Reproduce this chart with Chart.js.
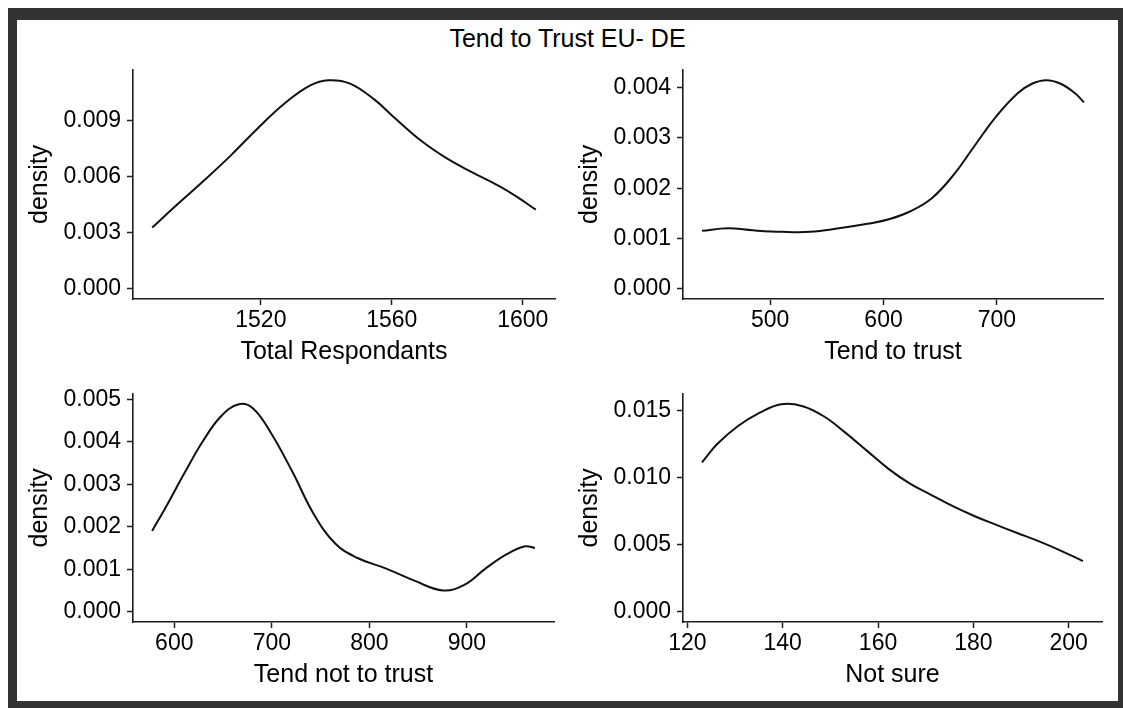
<!DOCTYPE html>
<html>
<head>
<meta charset="utf-8">
<script src="https://cdn.jsdelivr.net/npm/chart.js@4/dist/chart.umd.min.js"></script>
<style>
  html, body { margin: 0; padding: 0; background: #fff; width: 1123px; height: 708px; overflow: hidden; }
  #frame { position: absolute; left: 8px; top: 8px; width: 1101px; height: 681px;
           border-style: solid; border-color: #333; border-width: 12px 5px 7px 9px; background: #fff; }
  #title { position: absolute; left: 17px; width: 1101px; top: 26px; text-align: center;
           font: 25px/25px 'Liberation Sans', Arial, sans-serif; color: #000; }
  canvas { position: absolute; }
</style>
</head>
<body>
<div id="frame"></div>
<div id="title"></div>
<canvas id="p1" width="548" height="322" style="left:17px;top:50px"></canvas>
<canvas id="p2" width="546" height="322" style="left:567px;top:50px"></canvas>
<canvas id="p3" width="547" height="321" style="left:17px;top:374px"></canvas>
<canvas id="p4" width="545" height="321" style="left:567px;top:374px"></canvas>
<script>
// Kernel density estimates of the German EU-trust survey counts
const pageTitle = 'Tend to Trust EU- DE';
const yTitle = 'density';

// Total Respondants
const totalX = [1486.8, 1494.6, 1503.4, 1511.0, 1518.7, 1527.4, 1535.1, 1540.6, 1547.1, 1554.8, 1560.3, 1569.0, 1576.7, 1584.3, 1593.1, 1598.6, 1604.0];
const totalDensity = [0.00326, 0.00452, 0.00590, 0.00715, 0.00851, 0.00992, 0.01086, 0.01114, 0.01097, 0.01009, 0.00922, 0.00790, 0.00697, 0.00624, 0.00545, 0.00486, 0.00422];
const totalXTicks = [1520, 1560, 1600];
const totalYTicks = [0, 0.003, 0.006, 0.009];

// Tend to trust
const trustX = [440.0, 462.8, 484.9, 510.1, 535.3, 560.6, 585.8, 604.8, 623.7, 642.6, 661.6, 680.5, 699.4, 718.3, 730.9, 743.6, 756.2, 768.9, 776.7];
const trustDensity = [0.00115, 0.00120, 0.00116, 0.00113, 0.00113, 0.00120, 0.00129, 0.00138, 0.00154, 0.00180, 0.00226, 0.00285, 0.00343, 0.00389, 0.00408, 0.00415, 0.00408, 0.00389, 0.00371];
const trustXTicks = [500, 600, 700];
const trustYTicks = [0, 0.001, 0.002, 0.003, 0.004];

// Tend not to trust
const distrustX = [577.3, 592.7, 611.0, 629.4, 647.7, 666.1, 680.8, 699.1, 721.2, 743.2, 765.2, 787.2, 816.6, 846.0, 875.4, 897.3, 919.3, 941.3, 959.8, 969.6];
const distrustDensity = [0.00190, 0.00252, 0.00329, 0.00402, 0.00460, 0.00489, 0.00479, 0.00421, 0.00329, 0.00229, 0.00160, 0.00127, 0.00102, 0.00073, 0.00050, 0.00063, 0.00102, 0.00136, 0.00154, 0.00150];
const distrustXTicks = [600, 700, 800, 900];
const distrustYTicks = [0, 0.001, 0.002, 0.003, 0.004, 0.005];

// Not sure
const unsureX = [123.07, 126.2, 130.7, 135.2, 139.7, 144.2, 148.7, 153.2, 157.7, 162.2, 166.7, 171.2, 175.8, 180.3, 184.7, 189.2, 193.8, 198.3, 203.0];
const unsureDensity = [0.01113, 0.01247, 0.01385, 0.01483, 0.01546, 0.01531, 0.01454, 0.01332, 0.01198, 0.01064, 0.00954, 0.00869, 0.00784, 0.00711, 0.00648, 0.00586, 0.00523, 0.00455, 0.00377];
const unsureXTicks = [120, 140, 160, 180, 200];
const unsureYTicks = [0, 0.005, 0.010, 0.015];

document.getElementById('title').textContent = pageTitle;

Chart.defaults.font.family = "'Liberation Sans', Arial, sans-serif";
Chart.defaults.color = '#000';

const axisColor = '#1e1e1e';

function drawPanel(canvasId, xs, ys, xTicks, yTicks, xTitle, pad) {
  const xMin = Math.min(...xs), xMax = Math.max(...xs), xSpan = xMax - xMin;
  const yMax = Math.max(...ys);
  new Chart(document.getElementById(canvasId), {
    type: 'line',
    data: {
      datasets: [{
        data: xs.map((x, i) => ({ x: x, y: ys[i] })),
        borderColor: '#111',
        borderWidth: 2,
        pointRadius: 0,
        fill: false,
        tension: 0.4
      }]
    },
    options: {
      responsive: false,
      animation: false,
      devicePixelRatio: 1,
      layout: { padding: { top: pad.top, right: pad.right, left: 0, bottom: 0 } },
      plugins: { legend: { display: false }, tooltip: { enabled: false } },
      scales: {
        x: {
          type: 'linear',
          min: xMin - 0.05 * xSpan,
          max: xMax + 0.05 * xSpan,
          afterBuildTicks: s => { s.ticks = xTicks.map(v => ({ value: v })); },
          afterFit: s => { s.height = 73; },
          ticks: { callback: v => String(v), font: { size: 23 }, color: '#000', padding: 2.2, maxRotation: 0, autoSkip: false },
          grid: { drawOnChartArea: false, drawTicks: true, tickLength: 6, tickWidth: 1.5, tickColor: axisColor },
          border: { display: true, color: axisColor, width: 1.6 },
          title: { display: true, text: xTitle, font: { size: 25 }, color: '#000', padding: { top: 0, bottom: 5 } }
        },
        y: {
          type: 'linear',
          min: -0.05 * yMax,
          max: 1.05 * yMax,
          afterBuildTicks: s => { s.ticks = yTicks.map(v => ({ value: v })); },
          afterFit: s => { s.width = 116; },
          ticks: { callback: v => v.toFixed(3), font: { size: 23 }, color: '#000', padding: 6, autoSkip: false },
          grid: { drawOnChartArea: false, drawTicks: true, tickLength: 6, tickWidth: 1.5, tickColor: axisColor },
          border: { display: true, color: axisColor, width: 1.6 },
          title: { display: true, text: yTitle, font: { size: 25 }, color: '#000', padding: { top: 8, bottom: 0 } }
        }
      }
    }
  });
}

drawPanel('p1', totalX, totalDensity, totalXTicks, totalYTicks, 'Total Respondants', { top: 16.5, right: 10 });
drawPanel('p2', trustX, trustDensity, trustXTicks, trustYTicks, 'Tend to trust', { top: 16, right: 10 });
drawPanel('p3', distrustX, distrustDensity, distrustXTicks, distrustYTicks, 'Tend not to trust', { top: 16.5, right: 10 });
drawPanel('p4', unsureX, unsureDensity, unsureXTicks, unsureYTicks, 'Not sure', { top: 16.5, right: 10 });
</script>
</body>
</html>
